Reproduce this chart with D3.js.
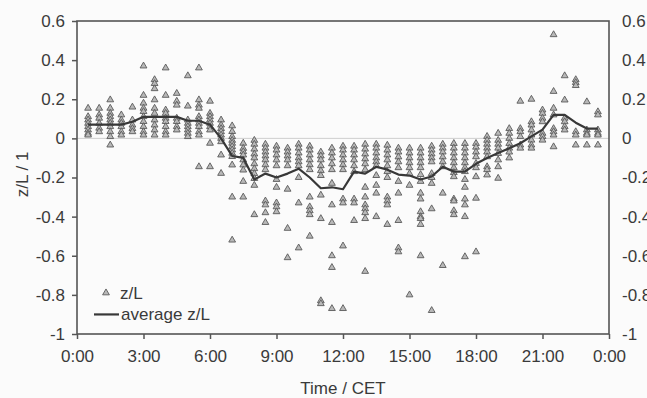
<!DOCTYPE html>
<html>
<head>
<meta charset="utf-8">
<script src="https://cdn.jsdelivr.net/npm/d3@7"></script>
<style>
    body { margin: 0; background: #fbfbfb; }
    #chart { width: 647px; height: 398px; }
    text { font-family: "Liberation Sans", Arial, sans-serif; fill: #3a3a3a; }
</style>
</head>
<body>
<div id="chart"></div>
<script>

// half-hourly times (hours), 0:30 .. 23:30
let times = d3.range(0.5, 24, 0.5);

// average z/L per half hour
let avgZL = [0.07, 0.07, 0.07, 0.07, 0.085, 0.11, 0.11, 0.11, 0.11, 0.09, 0.09, 0.07,
    0.0, -0.09, -0.10, -0.21, -0.18, -0.20, -0.18, -0.155, -0.20, -0.255, -0.25, -0.26,
    -0.17, -0.18, -0.145, -0.16, -0.185, -0.19, -0.21, -0.195, -0.145, -0.17, -0.17, -0.13,
    -0.10, -0.075, -0.05, -0.025, 0.01, 0.045, 0.12, 0.12, 0.08, 0.05, 0.05];

// single z/L values, one list per half hour
let zlValues = [
    [0.154, 0.111, 0.094, 0.077, 0.06, 0.043, 0.026, 0.017],
    [0.154, 0.12, 0.103, 0.077, 0.052, 0.034],
    [0.197, 0.154, 0.128, 0.111, 0.094, 0.077, 0.06, 0.034, 0.009, -0.034],
    [0.12, 0.094, 0.077, 0.06, 0.034, 0.017],
    [0.16, 0.094, 0.068, 0.05, 0.034],
    [0.37, 0.22, 0.18, 0.154, 0.137, 0.111, 0.086, 0.06, 0.034, 0.017],
    [0.30, 0.28, 0.254, 0.197, 0.154, 0.128, 0.094, 0.068, 0.043, 0.017],
    [0.36, 0.22, 0.145, 0.128, 0.103, 0.086, 0.06, 0.034, 0.017],
    [0.23, 0.19, 0.17, 0.103, 0.086, 0.06, 0.043],
    [0.32, 0.165, 0.094, 0.077, 0.06, 0.043, 0.026, 0.009],
    [0.36, 0.197, 0.17, 0.154, 0.111, 0.094, 0.077, 0.06, 0.034, 0.017, -0.145],
    [0.19, 0.128, 0.111, 0.094, 0.077, 0.06, 0.043, -0.025, -0.145],
    [0.094, 0.068, 0.05, 0.034, 0.017, 0.0, -0.017, -0.085, -0.179],
    [0.064, 0.035, 0.009, -0.01, -0.025, -0.042, -0.059, -0.076, -0.093, -0.136, -0.30, -0.52],
    [-0.025, -0.051, -0.068, -0.085, -0.11, -0.136, -0.162, -0.22, -0.30],
    [-0.01, -0.03, -0.055, -0.08, -0.10, -0.13, -0.155, -0.18, -0.205, -0.24, -0.39],
    [-0.03, -0.05, -0.07, -0.09, -0.11, -0.135, -0.16, -0.32, -0.34, -0.38, -0.43],
    [-0.04, -0.06, -0.085, -0.11, -0.14, -0.21, -0.25, -0.33, -0.35, -0.375],
    [-0.05, -0.07, -0.09, -0.11, -0.14, -0.26, -0.46, -0.61],
    [-0.03, -0.05, -0.075, -0.10, -0.12, -0.14, -0.2, -0.33, -0.56],
    [-0.04, -0.06, -0.085, -0.11, -0.135, -0.16, -0.30, -0.35, -0.37, -0.39, -0.50],
    [-0.07, -0.09, -0.11, -0.14, -0.165, -0.19, -0.29, -0.41, -0.83, -0.845],
    [-0.05, -0.075, -0.10, -0.13, -0.16, -0.23, -0.34, -0.43, -0.60, -0.66, -0.87],
    [-0.04, -0.06, -0.085, -0.11, -0.135, -0.16, -0.31, -0.33, -0.55, -0.87],
    [-0.04, -0.06, -0.085, -0.11, -0.14, -0.17, -0.31, -0.33, -0.42],
    [-0.03, -0.055, -0.08, -0.105, -0.13, -0.16, -0.25, -0.30, -0.34, -0.36, -0.38, -0.41, -0.68],
    [-0.03, -0.05, -0.075, -0.10, -0.12, -0.14, -0.19, -0.24, -0.28, -0.40],
    [-0.035, -0.06, -0.085, -0.11, -0.14, -0.17, -0.20, -0.30, -0.32, -0.34, -0.44],
    [-0.05, -0.07, -0.095, -0.12, -0.15, -0.22, -0.28, -0.42, -0.56, -0.58],
    [-0.05, -0.075, -0.10, -0.125, -0.15, -0.18, -0.24, -0.80],
    [-0.05, -0.075, -0.10, -0.125, -0.15, -0.185, -0.22, -0.28, -0.31, -0.375, -0.40, -0.41, -0.44, -0.60],
    [-0.04, -0.06, -0.08, -0.10, -0.12, -0.18, -0.20, -0.23, -0.36, -0.88],
    [-0.03, -0.05, -0.07, -0.095, -0.12, -0.145, -0.28, -0.65],
    [-0.026, -0.05, -0.075, -0.10, -0.125, -0.15, -0.175, -0.196, -0.31, -0.32, -0.37, -0.39],
    [-0.026, -0.05, -0.075, -0.10, -0.125, -0.15, -0.17, -0.21, -0.25, -0.31, -0.34, -0.40, -0.605],
    [-0.026, -0.045, -0.07, -0.094, -0.128, -0.15, -0.196, -0.306, -0.58],
    [0.01, -0.01, -0.03, -0.05, -0.07, -0.094, -0.145, -0.16, -0.187],
    [0.026, -0.01, -0.03, -0.05, -0.077, -0.11, -0.145, -0.204],
    [0.05, 0.026, 0.0, -0.026, -0.05, -0.07, -0.10],
    [0.19, 0.05, 0.034, 0.009, -0.034, -0.05],
    [0.20, 0.085, 0.068, 0.043, 0.017, -0.009, -0.034, -0.05],
    [0.145, 0.128, 0.103, 0.085, 0.026, 0.009, -0.009],
    [0.53, 0.24, 0.154, 0.12, 0.05, 0.034, 0.017, -0.043],
    [0.32, 0.196, 0.103, 0.085, 0.06, 0.043],
    [0.30, 0.285, 0.27, 0.034, 0.017, -0.034],
    [0.187, 0.043, 0.026, 0.017, -0.034],
    [0.136, 0.12, 0.043, 0.026, 0.017, -0.034]
];

let yTicks = [0.6, 0.4, 0.2, 0, -0.2, -0.4, -0.6, -0.8, -1];
let xTicks = [0, 3, 6, 9, 12, 15, 18, 21, 24];
let xTickLabels = ["0:00", "3:00", "6:00", "9:00", "12:00", "15:00", "18:00", "21:00", "0:00"];

let margin = {top: 21, right: 38, bottom: 64, left: 77};
let width = 647, height = 398;
let fontSize = 17;

// plain hyphen minus like the original
let fmt = d => String(d);

let svg = d3.select("#chart").append("svg")
    .attr("width", width)
    .attr("height", height);

let x = d3.scaleLinear().domain([0, 24]).range([margin.left, width - margin.right]);
let y = d3.scaleLinear().domain([-1, 0.6]).range([height - margin.bottom, margin.top]);

// zero line
svg.append("line")
    .attr("x1", x(0)).attr("x2", x(24))
    .attr("y1", y(0)).attr("y2", y(0))
    .attr("stroke", "#cfcfcf")
    .attr("stroke-width", 1);

// scatter points
let points = [];
times.forEach((t, i) => zlValues[i].forEach(v => points.push({t: t, v: v})));

let tri = d3.symbol().type(d3.symbolTriangle).size(20);

svg.append("g").selectAll("path")
    .data(points)
    .enter()
    .append("path")
    .attr("d", tri)
    .attr("transform", d => `translate(${x(d.t)},${y(d.v)})`)
    .attr("fill", "#b8b8b8")
    .attr("stroke", "#5a5a5a")
    .attr("stroke-width", 0.9);

// average line
let line = d3.line()
    .x((d, i) => x(times[i]))
    .y(d => y(d));

svg.append("path")
    .datum(avgZL)
    .attr("d", line)
    .attr("fill", "none")
    .attr("stroke", "#383838")
    .attr("stroke-width", 2.2)
    .attr("stroke-linejoin", "round");

// frame
svg.append("rect")
    .attr("x", x(0)).attr("y", y(0.6))
    .attr("width", x(24) - x(0))
    .attr("height", y(-1) - y(0.6))
    .attr("fill", "none")
    .attr("stroke", "#555")
    .attr("stroke-width", 1.6);

// left axis
let yAxis = svg.append("g")
    .attr("transform", `translate(${x(0)},0)`)
    .call(d3.axisLeft(y).tickValues(yTicks).tickFormat(fmt).tickSize(5).tickPadding(7));
yAxis.select(".domain").remove();
yAxis.selectAll("line").attr("stroke", "#555").attr("stroke-width", 1.5);
yAxis.selectAll("text").attr("font-size", fontSize).style("font-family", "Liberation Sans, Arial, sans-serif").attr("fill", "#3a3a3a");

// right labels (no ticks)
svg.append("g").selectAll("text")
    .data(yTicks)
    .enter()
    .append("text")
    .attr("x", x(24) + 13)
    .attr("y", d => y(d))
    .attr("dy", "0.35em")
    .attr("font-size", fontSize)
    .text(fmt);

// bottom axis
let xAxis = svg.append("g")
    .attr("transform", `translate(0,${y(-1)})`)
    .call(d3.axisBottom(x).tickValues(xTicks).tickFormat((d, i) => xTickLabels[i]).tickSize(5).tickPadding(11));
xAxis.select(".domain").remove();
xAxis.selectAll("line").attr("stroke", "#555").attr("stroke-width", 1.5);
xAxis.selectAll("text").attr("font-size", fontSize).style("font-family", "Liberation Sans, Arial, sans-serif").attr("fill", "#3a3a3a");

// axis titles
svg.append("text")
    .attr("x", x(12))
    .attr("y", 394)
    .attr("text-anchor", "middle")
    .attr("font-size", fontSize)
    .text("Time / CET");

svg.append("text")
    .attr("transform", `translate(28, ${y(-0.2) - 3})rotate(-90)`)
    .attr("text-anchor", "middle")
    .attr("font-size", fontSize)
    .text("z/L / 1");

// legend
let legend = svg.append("g");
legend.append("path")
    .attr("d", tri)
    .attr("transform", `translate(106, ${y(-0.8) - 2})`)
    .attr("fill", "#b8b8b8")
    .attr("stroke", "#5a5a5a")
    .attr("stroke-width", 0.9);
legend.append("text")
    .attr("x", 120)
    .attr("y", y(-0.8) - 2)
    .attr("dy", "0.35em")
    .attr("font-size", fontSize)
    .text("z/L");
legend.append("line")
    .attr("x1", 94).attr("x2", 119)
    .attr("y1", y(-0.9)).attr("y2", y(-0.9))
    .attr("stroke", "#383838")
    .attr("stroke-width", 2.2);
legend.append("text")
    .attr("x", 121)
    .attr("y", y(-0.9))
    .attr("dy", "0.35em")
    .attr("font-size", fontSize)
    .text("average z/L");

</script>
</body>
</html>
